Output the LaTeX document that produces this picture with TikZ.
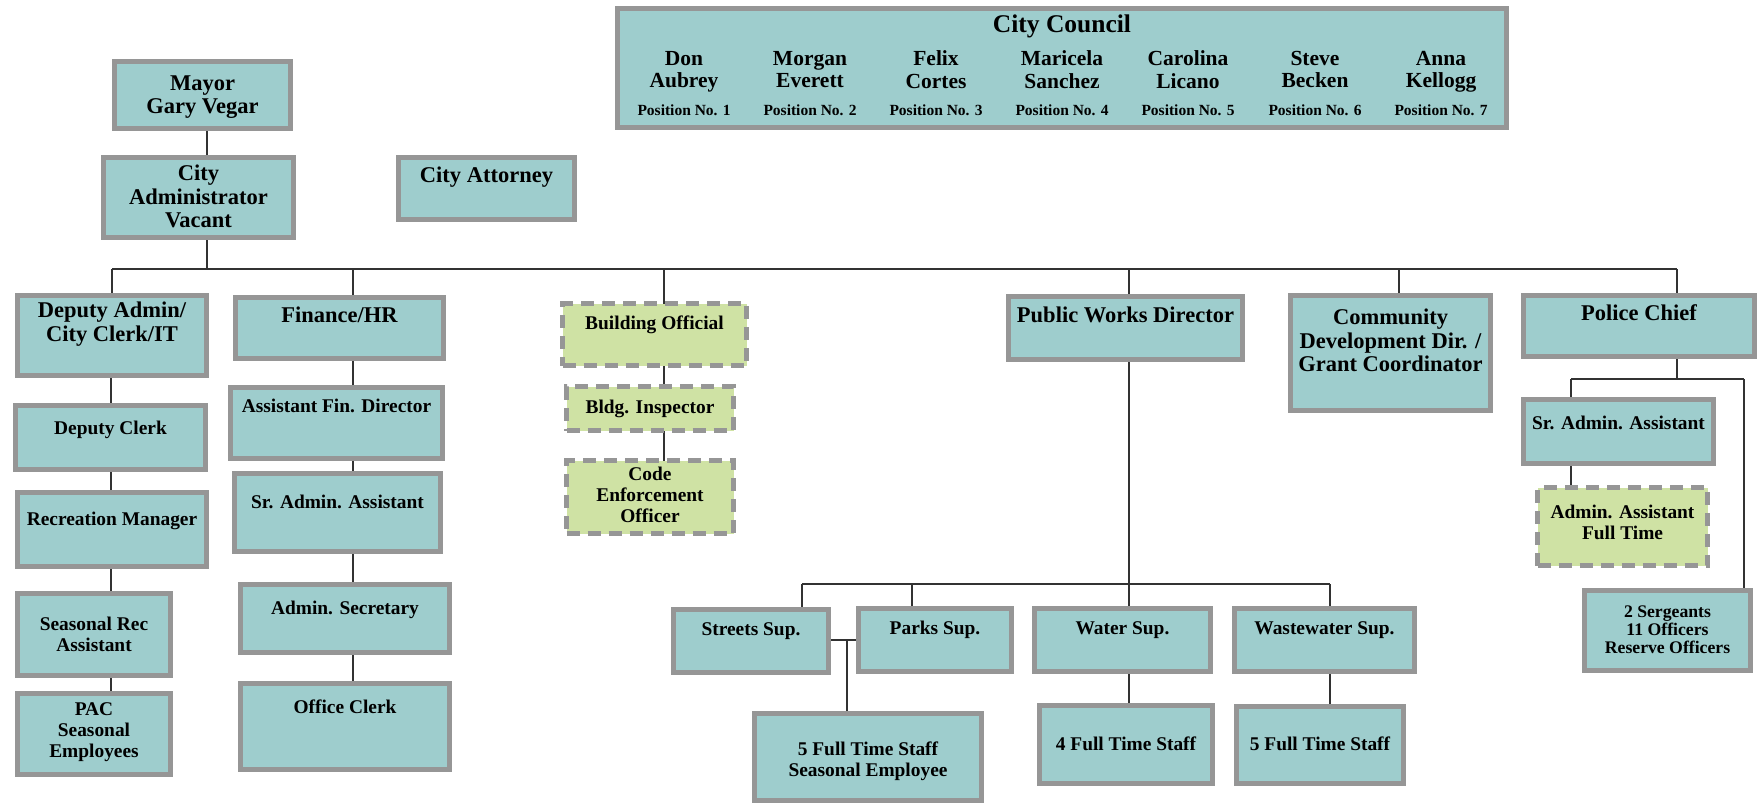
\documentclass[tikz,border=0pt]{standalone}
\usepackage{fontspec}
\setmainfont{Liberation Serif}
\usetikzlibrary{backgrounds}
\definecolor{tealfill}{RGB}{158,205,205}
\definecolor{bord}{RGB}{150,150,150}
\definecolor{greenfill}{RGB}{207,226,164}
\definecolor{connc}{RGB}{50,50,50}
\tikzset{
  solidbox/.style={rectangle, draw=bord, fill=tealfill, line width=5pt, inner sep=0pt, outer sep=0pt},
  dashbox/.style={rectangle, draw=bord, fill=greenfill, line width=4.5pt, dash pattern=on 13pt off 8pt, inner sep=0pt, outer sep=0pt},
  maintxt/.style={font=\bfseries\fontsize{22.5}{23.5}\selectfont, align=center, inner sep=0pt,
    execute at begin node={\vrule height 16.5pt depth 0pt width 0pt}, execute at end node={\vrule height 0pt depth 5pt width 0pt}},
  subtxt/.style={font=\bfseries\fontsize{19.4}{21}\selectfont, align=center, inner sep=0pt,
    execute at begin node={\vrule height 14pt depth 0pt width 0pt}, execute at end node={\vrule height 0pt depth 4.5pt width 0pt}},
  smalltxt/.style={font=\bfseries\fontsize{17.7}{18}\selectfont, align=center, inner sep=0pt,
    execute at begin node={\vrule height 12.8pt depth 0pt width 0pt}, execute at end node={\vrule height 0pt depth 4pt width 0pt}},
  titletxt/.style={font=\bfseries\fontsize{25.5}{27}\selectfont, align=center, inner sep=0pt,
    execute at begin node={\vrule height 18.5pt depth 0pt width 0pt}, execute at end node={\vrule height 0pt depth 6pt width 0pt}},
  nametxt/.style={font=\bfseries\fontsize{21.5}{22.4}\selectfont, align=center, inner sep=0pt,
    execute at begin node={\vrule height 15.5pt depth 0pt width 0pt}, execute at end node={\vrule height 0pt depth 5pt width 0pt}},
  postxt/.style={font=\bfseries\fontsize{15.5}{16}\selectfont, align=center, inner sep=0pt,
    execute at begin node={\vrule height 11.5pt depth 0pt width 0pt}, execute at end node={\vrule height 0pt depth 3.5pt width 0pt}},
  conn/.style={draw=connc, line width=1.4pt},
}
% #1 name, #2 box style, #3 text style, #4 x1, #5 y1, #6 x2, #7 y2, #8 text y, #9 text
\newcommand\obox[9]{%
  \node[#2, minimum width={(#6-#4-5)*1pt}, minimum height={(#7-#5-5)*1pt}] (#1) at ({(#4+#6)/2},{(#5+#7)/2}) {};
  \node[#3] (#1t) at ({(#4+#6)/2},#8) {#9};
}
\begin{document}
\begin{tikzpicture}[x=1pt,y=-1pt]
\useasboundingbox (0,0) rectangle (1759,804);

% City Council
\node[solidbox, minimum width=889pt, minimum height=119pt] (council) at (1062,68) {};
\node[titletxt] (councilt) at (1062,26) {City Council};
\node[nametxt] (m1) at (684,72) {Don\\Aubrey};
\node[nametxt] (m2) at (810,72) {Morgan\\Everett};
\node[nametxt] (m3) at (936,72) {Felix\\Cortes};
\node[nametxt] (m4) at (1062,72) {Maricela\\Sanchez};
\node[nametxt] (m5) at (1188,72) {Carolina\\Licano};
\node[nametxt] (m6) at (1315,72) {Steve\\Becken};
\node[nametxt] (m7) at (1441,72) {Anna\\Kellogg};
\node[postxt] (p1) at (684,111) {Position No. 1};
\node[postxt] (p2) at (810,111) {Position No. 2};
\node[postxt] (p3) at (936,111) {Position No. 3};
\node[postxt] (p4) at (1062,111) {Position No. 4};
\node[postxt] (p5) at (1188,111) {Position No. 5};
\node[postxt] (p6) at (1315,111) {Position No. 6};
\node[postxt] (p7) at (1441,111) {Position No. 7};

% top
\obox{mayor}{solidbox}{maintxt}{112}{59}{293}{131}{97}{Mayor\\Gary Vegar}
\obox{cadmin}{solidbox}{maintxt}{101}{155}{296}{240}{199}{City\\Administrator\\Vacant}
\obox{catty}{solidbox}{maintxt}{396}{155}{577}{222}{177}{City Attorney}

% department heads
\obox{dep}{solidbox}{maintxt}{15}{293}{209}{378}{324}{Deputy Admin/\\City Clerk/IT}
\obox{fin}{solidbox}{maintxt}{233}{295}{446}{361}{317}{Finance/HR}
\obox{bo}{dashbox}{subtxt}{560}{301}{749}{368}{325}{Building Official}
\obox{pw}{solidbox}{maintxt}{1006}{294}{1245}{362}{317}{Public Works Director}
\obox{cd}{solidbox}{maintxt}{1288}{293}{1493}{413}{343}{Community\\Development Dir. /\\Grant Coordinator}
\obox{pol}{solidbox}{maintxt}{1521}{293}{1757}{359}{315}{Police Chief}

% deputy column
\obox{dclerk}{solidbox}{subtxt}{13}{403}{208}{472}{430}{Deputy Clerk}
\obox{rec}{solidbox}{subtxt}{15}{490}{209}{569}{521}{Recreation Manager}
\obox{srec}{solidbox}{subtxt}{15}{591}{173}{678}{637}{Seasonal Rec\\Assistant}
\obox{pac}{solidbox}{subtxt}{15}{691}{173}{777}{732}{PAC\\Seasonal\\Employees}

% finance column
\obox{afd}{solidbox}{subtxt}{228}{385}{445}{461}{408}{Assistant Fin. Director}
\obox{fsr}{solidbox}{subtxt}{232}{471}{443}{554}{504}{Sr. Admin. Assistant}
\obox{asec}{solidbox}{subtxt}{238}{582}{452}{655}{610}{Admin. Secretary}
\obox{oclerk}{solidbox}{subtxt}{238}{681}{452}{772}{709}{Office Clerk}

% building column
\obox{bi}{dashbox}{subtxt}{564}{384}{736}{433}{409}{Bldg. Inspector}
\obox{ce}{dashbox}{subtxt}{564}{458}{736}{536}{497}{Code\\Enforcement\\Officer}

% public works
\obox{streets}{solidbox}{subtxt}{671}{607}{831}{675}{631}{Streets Sup.}
\obox{parks}{solidbox}{subtxt}{856}{606}{1014}{674}{630}{Parks Sup.}
\obox{water}{solidbox}{subtxt}{1032}{606}{1213}{674}{630}{Water Sup.}
\obox{ww}{solidbox}{subtxt}{1232}{606}{1417}{674}{630}{Wastewater Sup.}
\obox{fts}{solidbox}{subtxt}{752}{711}{984}{803}{761}{5 Full Time Staff\\Seasonal Employee}
\obox{ft4}{solidbox}{subtxt}{1037}{703}{1215}{786}{746}{4 Full Time Staff}
\obox{ft5}{solidbox}{subtxt}{1234}{704}{1406}{786}{746}{5 Full Time Staff}

% police
\obox{psr}{solidbox}{subtxt}{1521}{397}{1716}{466}{425}{Sr. Admin. Assistant}
\obox{paa}{dashbox}{subtxt}{1535}{485}{1710}{568}{525}{Admin. Assistant\\Full Time}
\obox{serg}{solidbox}{smalltxt}{1582}{588}{1753}{673}{632}{2 Sergeants\\11 Officers\\Reserve Officers}

\begin{pgfonlayer}{background}
\fill[white] (0,0) rectangle (1759,804);
\coordinate (cx) at (207,0);
\coordinate (bL) at (112,269);
\coordinate (bR) at (1677,269);
\coordinate (b2) at (353,269);
\coordinate (b3) at (664,269);
\coordinate (b4) at (1129,269);
\coordinate (b5) at (1399,269);
\coordinate (dc) at (111,0);
\coordinate (pwbus) at (1129,584);
\coordinate (pwL) at (802,584);
\coordinate (pw2) at (912,584);
\coordinate (pwR) at (1330,584);
\coordinate (sp) at (847,640);
\coordinate (pb) at (1677,379);
\coordinate (pbL) at (1571,379);
\coordinate (pbR) at (1744,379);

\draw[conn] (mayor.south -| cx) -- (cadmin.north -| cx);
\draw[conn] (cadmin.south -| cx) -- (cx |- bL);
\draw[conn] (bL) -- (bR);
\draw[conn] (bL) -- (bL |- dep.north);
\draw[conn] (b2) -- (b2 |- fin.north);
\draw[conn] (b3) -- (b3 |- bo.north);
\draw[conn] (b4) -- (b4 |- pw.north);
\draw[conn] (b5) -- (b5 |- cd.north);
\draw[conn] (bR) -- (bR |- pol.north);

\draw[conn] (dep.south -| dc) -- (dclerk.north -| dc);
\draw[conn] (dclerk.south -| dc) -- (rec.north -| dc);
\draw[conn] (rec.south -| dc) -- (srec.north -| dc);
\draw[conn] (srec.south -| dc) -- (pac.north -| dc);

\draw[conn] (fin.south -| b2) -- (afd.north -| b2);
\draw[conn] (afd.south -| b2) -- (fsr.north -| b2);
\draw[conn] (fsr.south -| b2) -- (asec.north -| b2);
\draw[conn] (asec.south -| b2) -- (oclerk.north -| b2);

\draw[conn] (bo.south -| b3) -- (bi.north -| b3);
\draw[conn] (bi.south -| b3) -- (ce.north -| b3);

\draw[conn] (pw.south -| b4) -- (pwbus);
\draw[conn] (pwL) -- (pwR);
\draw[conn] (pwL) -- (pwL |- streets.north);
\draw[conn] (pw2) -- (pw2 |- parks.north);
\draw[conn] (pwbus) -- (pwbus |- water.north);
\draw[conn] (pwR) -- (pwR |- ww.north);
\draw[conn] (streets.east |- sp) -- (parks.west |- sp);
\draw[conn] (sp) -- (sp |- fts.north);
\draw[conn] (water.south -| b4) -- (ft4.north -| b4);
\draw[conn] (ww.south -| pwR) -- (ft5.north -| pwR);

\draw[conn] (pol.south -| pb) -- (pb);
\draw[conn] (pbL) -- (pbR);
\draw[conn] (pbL) -- (pbL |- psr.north);
\draw[conn] (psr.south -| pbL) -- (paa.north -| pbL);
\draw[conn] (pbR) -- (pbR |- serg.north);
\end{pgfonlayer}
\end{tikzpicture}
\end{document}
